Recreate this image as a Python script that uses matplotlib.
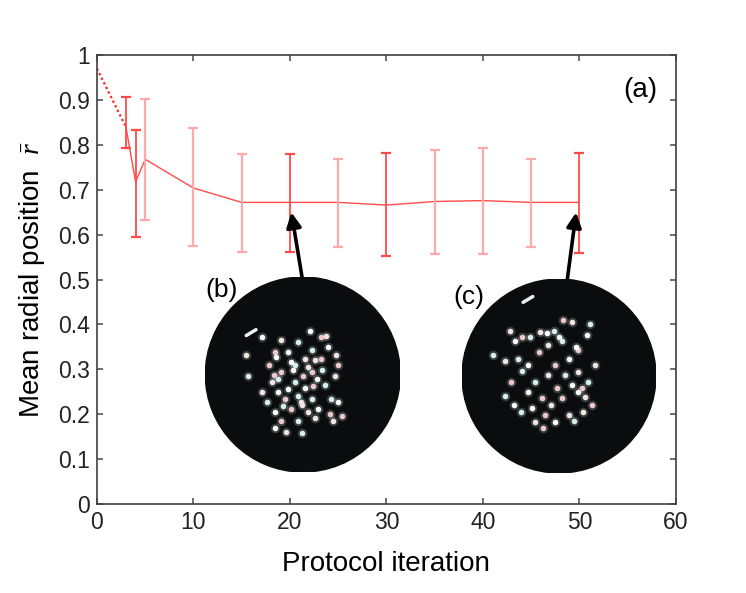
import matplotlib
matplotlib.use("Agg")
import matplotlib.pyplot as plt
from matplotlib.patches import Circle

plt.rcParams['font.family'] = ['Liberation Sans', 'DejaVu Sans']
plt.rcParams['mathtext.fontset'] = 'custom'
plt.rcParams['mathtext.it'] = 'Liberation Serif:italic'
plt.rcParams['mathtext.rm'] = 'Liberation Serif'

# ---- data ----
iterations = [3, 4, 5, 10, 15, 20, 25, 30, 35, 40, 45, 50]
mean_r = [0.84, 0.718, 0.768, 0.704, 0.672, 0.672, 0.672, 0.666, 0.674, 0.676, 0.672, 0.672]
upper_r = [0.907, 0.833, 0.902, 0.838, 0.780, 0.780, 0.769, 0.781, 0.789, 0.793, 0.769, 0.781]
lower_r = [0.793, 0.595, 0.633, 0.574, 0.562, 0.562, 0.572, 0.552, 0.556, 0.556, 0.572, 0.559]
strong_bar = [True, True, False, False, False, True, False, True, False, False, False, True]
initial_x = [0, 3]
initial_r = [0.97, 0.84]

x_ticks = [0, 10, 20, 30, 40, 50, 60]
y_ticks = [0, 0.1, 0.2, 0.3, 0.4, 0.5, 0.6, 0.7, 0.8, 0.9, 1.0]
y_ticklabels = ['0', '0.1', '0.2', '0.3', '0.4', '0.5', '0.6', '0.7', '0.8', '0.9', '1']

# particle spots in the two camera images (circle radius = 1)
spots_b_u = [-0.58, -0.56, -0.42, -0.29, -0.22, -0.05, 0.07, 0.19, 0.24, 0.09, 0.26, 0.36, 0.33, 0.23,
             0.36, 0.40, 0.31, -0.08, 0.02, -0.22, -0.32, -0.37, -0.29, -0.22, -0.17, -0.01, -0.29,
             -0.12, -0.01, 0.09, 0.16, 0.19, 0.02, -0.08, -0.15, -0.35, -0.42, 0.29, -0.25, 0.09,
             0.12, -0.05, -0.12, -0.18, 0.05, -0.25, -0.15, 0.00, 0.05, -0.05, 0.15, -0.30, 0.12,
             -0.20, -0.10, 0.10, -0.02, 0.20, -0.27, 0.28, 0.34]
spots_b_v = [0.20, -0.01, 0.39, 0.23, 0.35, 0.33, 0.45, 0.39, 0.40, 0.25, 0.28, 0.10, -0.01, -0.11,
             -0.28, -0.43, -0.48, -0.08, -0.14, 0.03, -0.08, -0.28, -0.38, -0.48, -0.59, -0.60, -0.55,
             -0.35, -0.31, -0.25, -0.35, 0.16, 0.16, 0.10, 0.23, 0.10, -0.18, -0.25, -0.18, 0.03,
             -0.45, -0.48, 0.13, -0.25, -0.38, -0.05, -0.15, -0.02, 0.08, -0.22, -0.05, 0.00, 0.15,
             -0.32, 0.05, -0.12, -0.28, 0.05, 0.18, -0.40, 0.20]
spots_c_u = [-0.51, -0.68, -0.45, -0.38, -0.20, -0.05, 0.00, 0.04, 0.13, 0.32, 0.29, 0.20, 0.37, 0.30,
             0.20, 0.34, 0.25, 0.15, -0.04, -0.16, -0.25, -0.56, -0.46, -0.49, -0.56, -0.42, -0.32,
             -0.21, -0.11, 0.03, 0.10, -0.04, -0.11, -0.25, -0.32, -0.18, -0.08, 0.06, 0.13, 0.03,
             0.20, -0.39, -0.28, -0.14, 0.10, -0.30, -0.12, 0.24, 0.27, -0.38, 0.18, -0.02]
spots_c_v = [0.46, 0.22, 0.36, 0.40, 0.45, 0.46, 0.40, 0.58, 0.56, 0.54, 0.42, 0.27, 0.11, -0.06,
             -0.16, -0.30, -0.37, -0.46, -0.47, -0.54, -0.47, -0.21, -0.30, -0.06, 0.15, 0.18, 0.11,
             0.25, 0.32, 0.36, 0.18, 0.11, 0.01, -0.06, -0.16, -0.23, -0.30, 0.01, -0.09, -0.23,
             0.04, -0.37, -0.33, -0.40, -0.40, 0.40, 0.44, -0.12, -0.22, 0.05, 0.30, -0.12]

fig = plt.figure(figsize=(7.46, 5.93), dpi=100)
ax = fig.add_axes([0.130, 0.150, 0.776, 0.757])

strong_col = '#ff4a4a'
light_col = '#ffaaaa'

ax.plot(initial_x, initial_r, linestyle=(0, (1.0, 1.3)), color='#ff2020', lw=1.6)
ax.plot(iterations, mean_r, color='#ff4a4a', lw=1.0)
for xi, m, up, lo, s in zip(iterations, mean_r, upper_r, lower_r, strong_bar):
    col = strong_col if s else light_col
    ax.errorbar([xi], [m], yerr=[[m - lo], [up - m]], fmt='none', ecolor=col,
                elinewidth=1.6 if not s else 1.3, capsize=3.6, capthick=1.6)

ax.set_xlim(0, 60)
ax.set_ylim(0, 1)
ax.set_xticks(x_ticks)
ax.set_xticklabels([str(t) for t in x_ticks])
ax.set_yticks(y_ticks)
ax.set_yticklabels(y_ticklabels)
ax.tick_params(direction='in', length=4, width=1.2, color='#555555', top=True, right=True,
               labelsize=16.5, labelcolor='#222222', pad=5)
for sp in ax.spines.values():
    sp.set_color('#404040')
    sp.set_linewidth(1.2)

ax.set_xlabel('Protocol iteration', fontsize=20, labelpad=12)
ax.set_ylabel('Mean radial position  $\\bar{r}$', fontsize=20, labelpad=8)

ax.text(640 / 746, 503 / 593, '(a)', transform=fig.transFigure, fontsize=20,
        ha='center', va='center')

# arrows from images to points
ax.annotate('', xy=(20.1, 0.656), xytext=(21.6, 0.46),
            arrowprops=dict(arrowstyle='-|>', lw=2.6, color='black', mutation_scale=22))
ax.annotate('', xy=(49.7, 0.656), xytext=(48.5, 0.46),
            arrowprops=dict(arrowstyle='-|>', lw=2.6, color='black', mutation_scale=22))

def draw_image(rect, us, vs):
    ia = fig.add_axes(rect)
    ia.set_xlim(-1, 1)
    ia.set_ylim(-1, 1)
    ia.axis('off')
    ia.add_patch(Circle((0, 0), 1, color='#0a0c0d'))
    ia.plot(us, vs, 'o', ms=7, color='#b8c8c8', alpha=0.25, mec='none')
    cols = ['#f4e4e4', '#d8eeee', '#ffffff', '#f0c8c8']
    for i, (u, v) in enumerate(zip(us, vs)):
        ia.plot(u, v, 'o', ms=4.0, color=cols[i % 4], mec='none')
    return ia

ib = draw_image([0.2752, 0.204, 0.2614, 0.3288], spots_b_u, spots_b_v)
ib.plot([-0.58, -0.48], [0.40, 0.46], color='#e8f0f0', lw=2.5, solid_capstyle='round')
ic = draw_image([0.6193, 0.2024, 0.260, 0.327], spots_c_u, spots_c_v)
ic.plot([-0.37, -0.27], [0.76, 0.82], color='#e8f0f0', lw=2.5, solid_capstyle='round')

fig.text(222 / 746, 1 - 290 / 593, '(b)', fontsize=19, ha='center', va='center')
fig.text(469 / 746, 1 - 297 / 593, '(c)', fontsize=19, ha='center', va='center')

fig.savefig('out.png', dpi=100)
